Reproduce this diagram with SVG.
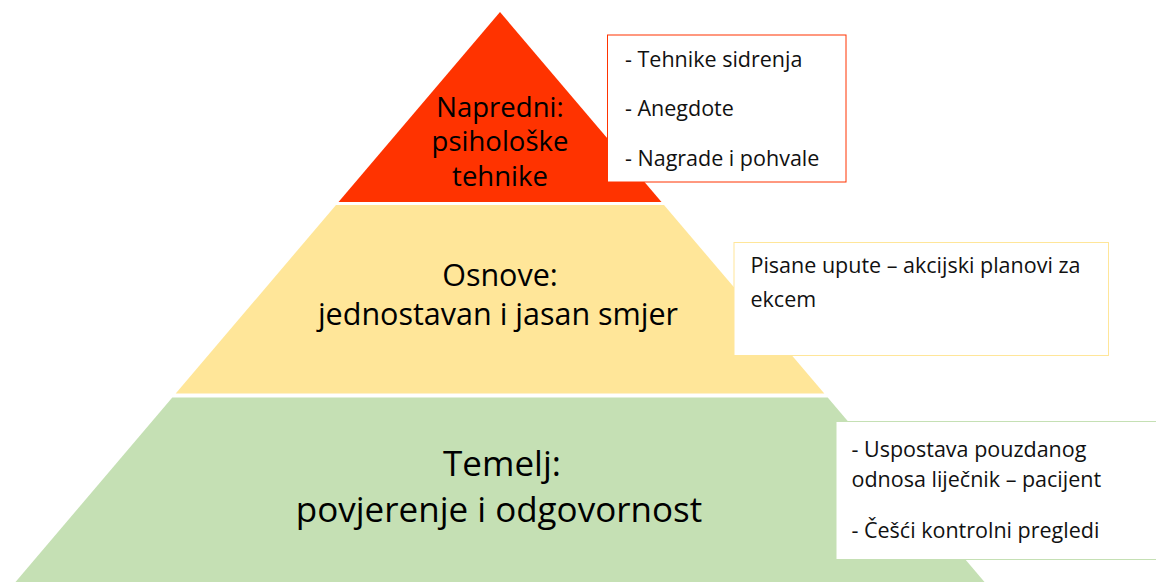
<svg xmlns="http://www.w3.org/2000/svg" width="1156" height="582" viewBox="0 0 1156 582">
  <style>
    .lbl { font-family: "Open Sans", "Liberation Sans", sans-serif; fill: #000; text-anchor: middle; }
    .note { font-family: "Open Sans", "Liberation Sans", sans-serif; fill: #111; font-size: 21.5px; }
    .box { fill: #fff; stroke-width: 1; }
  </style>
  <rect width="1156" height="582" fill="#fff"/>
  <g id="connectors"/>
  <g id="tier-advanced">
    <polygon points="500,12 661.5,202 338.5,202" fill="#FF3300"/>
    <text class="lbl" font-size="27.5" x="500" y="117">Napredni:</text>
    <text class="lbl" font-size="27.5" x="500" y="151">psihološke</text>
    <text class="lbl" font-size="27.5" x="500" y="185.5">tehnike</text>
  </g>
  <g id="tier-basics">
    <polygon points="336,205 664,205 824.3,393.5 175.7,393.5" fill="#FFE699"/>
    <text class="lbl" font-size="30.5" x="500" y="286">Osnove:</text>
    <text class="lbl" font-size="30.5" x="498" y="325">jednostavan i jasan smjer</text>
  </g>
  <g id="tier-foundation">
    <polygon points="172.3,397.5 827.7,397.5 984.5,582 15.5,582" fill="#C5E0B4"/>
    <text class="lbl" font-size="35" x="502" y="476">Temelj:</text>
    <text class="lbl" font-size="35" x="499" y="521.5">povjerenje i odgovornost</text>
  </g>
  <g id="note-advanced">
    <rect class="box" x="607.5" y="35" width="238.5" height="147" stroke="#FF3300"/>
    <text class="note" x="625" y="66.7">- Tehnike sidrenja</text>
    <text class="note" x="625" y="116">- Anegdote</text>
    <text class="note" x="625" y="166">- Nagrade i pohvale</text>
  </g>
  <g id="note-basics">
    <rect class="box" x="734" y="242.5" width="374.5" height="113" stroke="#FFE699"/>
    <text class="note" x="750.5" y="273.3">Pisane upute – akcijski planovi za</text>
    <text class="note" x="750.5" y="306.7">ekcem</text>
  </g>
  <g id="note-foundation">
    <rect class="box" x="836" y="421.5" width="330" height="138" stroke="#C5E0B4"/>
    <text class="note" x="851.5" y="456.7">- Uspostava pouzdanog</text>
    <text class="note" x="851.5" y="487.3">odnosa liječnik – pacijent</text>
    <text class="note" x="851.5" y="538.3">- Češći kontrolni pregledi</text>
  </g>
</svg>
